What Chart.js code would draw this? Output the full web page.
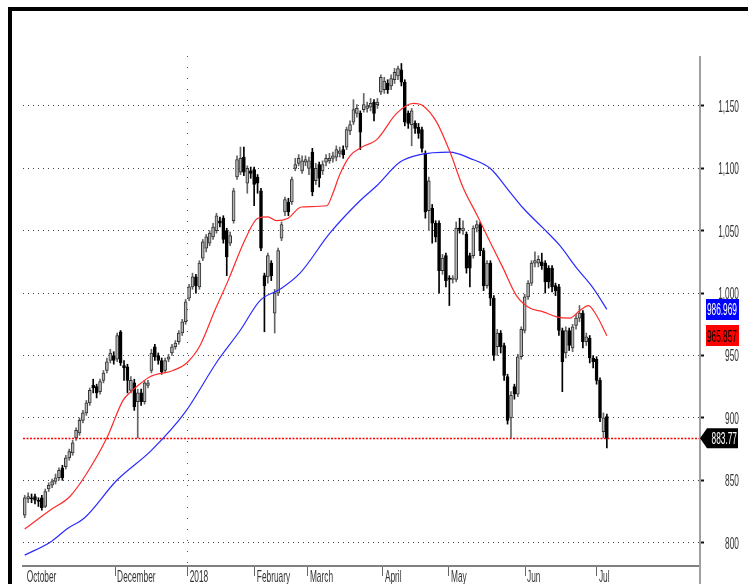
<!DOCTYPE html>
<html>
<head>
<meta charset="utf-8">
<script src="https://cdn.jsdelivr.net/npm/chart.js@4.4.1/dist/chart.umd.min.js"></script>
<style>
  html, body { margin: 0; padding: 0; background: #fff; }
  canvas { display: block; }
</style>
</head>
<body>
<canvas id="chart" width="748" height="584"></canvas>
<script>
// Daily prices, one entry per trading day (mid Oct 2017 - early Jul 2018)
const opens = [
  822,835,836,837,834,836,829,843,846,849,
  852,860,861,868,872,884,888,898,904,912,
  926,925,921,930,938,946,950,947,969,942,
  941,922,928,913,920,913,926,938,957,950,
  946,938,947,952,957,961,968,977,996,1005,
  1013,1005,1028,1036,1040,1045,1050,1058,1060,1050,
  1040,1058,1093,1097,1109,1088,1098,1099,1093,1082,
  1014,1013,1024,984,1000,1044,1065,1073,1073,1100,
  1104,1098,1105,1100,1113,1090,1103,1098,1105,1106,
  1108,1109,1112,1115,1117,1130,1137,1144,1144,1147,
  1148,1149,1153,1151,1161,1163,1168,1166,1171,1174,
  1179,1169,1144,1135,1136,1133,1131,1112,1066,1068,
  1056,1056,1018,1030,1012,1011,1011,1052,1050,1047,
  1030,1030,1052,1055,1034,1006,1024,996,957,968,
  958,933,900,925,919,949,970,997,1008,1024,
  1024,1025,1024,1020,1020,1006,1005,970,952,970,
  956,974,980,984,961,964,948,947,930,889,
  901
];
const highs = [
  838,840,839,839,836,838,843,848,851,855,
  860,862,870,875,882,892,900,906,914,924,
  931,927,931,938,948,955,953,968,970,946,
  943,933,931,923,923,930,930,955,959,952,
  948,948,951,959,962,970,979,995,1007,1016,
  1015,1026,1043,1047,1050,1056,1064,1061,1062,1052,
  1049,1084,1110,1117,1117,1102,1101,1101,1095,1084,
  1016,1032,1026,1003,1036,1057,1077,1076,1093,1108,
  1111,1110,1110,1109,1116,1104,1105,1106,1111,1112,
  1113,1118,1117,1118,1133,1138,1155,1151,1146,1160,
  1153,1156,1155,1156,1175,1173,1171,1175,1180,1182,
  1184,1171,1146,1148,1138,1136,1133,1114,1093,1071,
  1058,1058,1031,1032,1014,1014,1057,1060,1058,1049,
  1032,1054,1058,1057,1036,1026,1026,998,971,970,
  960,935,921,927,951,973,999,1010,1026,1033,
  1030,1032,1026,1022,1022,1008,1007,972,973,972,
  975,983,990,986,968,966,950,949,932,904,
  903
];
const lows = [
  820,832,832,831,829,826,828,841,844,847,
  850,850,859,866,870,882,886,896,902,910,
  920,916,919,928,936,944,943,945,942,930,
  920,920,906,884,910,911,924,936,946,943,
  935,936,945,950,955,959,966,975,994,1003,
  1000,1003,1026,1033,1038,1043,1048,1053,1040,1014,
  1038,1056,1091,1095,1094,1080,1092,1070,1080,1034,
  969,1008,1010,968,998,1042,1062,1062,1071,1098,
  1102,1096,1102,1095,1078,1087,1085,1095,1102,1104,
  1105,1106,1109,1108,1115,1127,1135,1141,1115,1145,
  1145,1146,1138,1148,1159,1160,1160,1163,1168,1171,
  1166,1134,1132,1118,1128,1124,1113,1060,1050,1040,
  1041,1000,1015,1005,990,1008,1009,1048,1047,1016,
  1005,1028,1049,1030,1002,1004,990,946,950,952,
  930,895,884,915,917,947,968,995,1006,1021,
  1021,1019,1000,1004,1001,998,966,921,948,954,
  953,971,977,956,958,944,940,927,897,884,
  876
];
const closes = [
  836,837,835,834,833,828,841,846,849,852,
  858,852,868,873,880,890,898,904,912,922,
  924,920,929,936,945,952,946,966,944,940,
  930,930,909,920,913,928,928,952,949,946,
  937,946,949,957,960,968,977,993,1005,1013,
  1006,1024,1041,1045,1048,1053,1062,1056,1043,1029,
  1046,1082,1107,1108,1097,1100,1096,1087,1088,1036,
  1006,1030,1014,1000,1034,1055,1075,1065,1091,1103,
  1108,1106,1107,1106,1081,1100,1092,1103,1108,1108,
  1110,1115,1114,1111,1131,1135,1147,1148,1129,1151,
  1150,1152,1144,1153,1173,1170,1163,1172,1177,1180,
  1169,1137,1136,1146,1132,1128,1116,1065,1090,1056,
  1045,1018,1028,1010,1011,1012,1052,1051,1052,1020,
  1020,1052,1055,1034,1006,1024,996,950,968,957,
  934,898,918,919,949,971,997,1008,1024,1026,
  1027,1022,1009,1009,1005,1002,970,945,970,958,
  973,980,984,961,965,948,945,930,900,900,
  883.77
];

// Moving averages (x = trading day index)
const redX  = [0, 7.4, 13.2, 18, 24, 28.7, 31, 34, 36.6, 43.3, 47.3, 51.2, 55.5, 59.4, 64.2, 68.1, 71, 73.5, 76.9, 80.8, 88.2, 90, 92, 95, 98.5, 102.8, 108.6, 113.5, 116.4, 120.3, 124.2, 128.1, 132, 135.9, 139.7, 143.6, 147.5, 151.4, 155.3, 159.2, 162.1, 164.6, 167, 170];
const redY  = [811, 826, 837, 855, 884, 914, 921, 928, 933, 938, 944, 958, 986, 1010, 1042, 1060, 1061, 1058, 1060, 1069, 1070, 1080, 1095, 1110, 1117, 1123, 1144, 1152, 1150, 1137, 1113, 1084, 1063, 1041, 1020, 998, 988, 985, 981, 980, 986, 990, 982, 965.857];
const blueX = [0, 7.8, 12.3, 17.5, 26.9, 37, 46.7, 56.4, 62.9, 68.7, 74.5, 80.4, 89.1, 97.9, 102.8, 109.6, 115.4, 124.2, 130, 135.9, 141.7, 145.6, 151.4, 156.3, 161.2, 166, 170];
const blueY = [790, 801, 811, 820, 850, 874, 904, 946, 970, 994, 1003, 1016, 1048, 1074, 1086, 1105, 1111, 1113, 1108, 1100, 1081, 1068, 1052, 1038, 1020, 1004, 986.969];

// Axis ticks
const monthTicks  = [0, 26.4, 47.6, 67.2, 82.7, 104.6, 123.9, 146.1, 167.1];
const monthLabels = ['October', 'December', '2018', 'February', 'March', 'April', 'May', 'Jun', 'Jul'];
const priceTicks  = [800, 850, 900, 950, 1000, 1050, 1100, 1150];

const days = closes.map((c, i) => i);
const isUp = days.map(i => closes[i] >= opens[i]);

// Tall, narrow label text like the original
const labelFont = '17px "Liberation Sans", Arial, sans-serif';
function squeezedText(ctx, text, x, y, align, color) {
    ctx.save();
    ctx.translate(x, y);
    ctx.scale(0.49, 1);
    ctx.font = labelFont;
    ctx.textAlign = align;
    ctx.textBaseline = 'alphabetic';
    ctx.fillStyle = color;
    ctx.fillText(text, 0, 0);
    ctx.restore();
}

// Value tag on the right axis
function valueBox(ctx, y, text, fill, textColor, arrow) {
    ctx.save();
    ctx.fillStyle = fill;
    ctx.beginPath();
    if (arrow) {
        ctx.moveTo(700, y);
        ctx.lineTo(707, y - 10);
        ctx.lineTo(738, y - 10);
        ctx.lineTo(738, y + 10);
        ctx.lineTo(707, y + 10);
        ctx.closePath();
    } else {
        ctx.rect(706, Math.round(y - 10.5), 33, 21);
    }
    ctx.fill();
    ctx.restore();
    squeezedText(ctx, text, 737, y + 6, 'right', textColor);
}

const decor = {
    id: 'decor',
    beforeDraw(chart) {
        const ctx = chart.ctx;
        ctx.save();
        ctx.fillStyle = '#fff';
        ctx.fillRect(0, 0, chart.width, chart.height);
        // outer frame
        ctx.fillStyle = '#000';
        ctx.fillRect(8, 7, 740, 4);
        ctx.fillRect(8, 7, 4, 577);
        ctx.restore();
    },
    afterDatasetsDraw(chart) {
        const ctx = chart.ctx;
        const area = chart.chartArea;
        const y = Math.round(chart.scales.y.getPixelForValue(closes[closes.length - 1])) + 0.5;
        ctx.save();
        ctx.strokeStyle = '#ff0000';
        ctx.lineWidth = 1.5;
        ctx.setLineDash([2, 1.5]);
        ctx.beginPath();
        ctx.moveTo(area.left, y);
        ctx.lineTo(area.right, y);
        ctx.stroke();
        ctx.restore();
    },
    afterDraw(chart) {
        const ctx = chart.ctx;
        const xs = chart.scales.x;
        const ys = chart.scales.y;
        const area = chart.chartArea;

        // right axis line, running down past the date axis
        ctx.save();
        ctx.fillStyle = '#a0a0a0';
        ctx.fillRect(area.right - 1, area.top, 2, chart.height - area.top);
        ctx.restore();

        priceTicks.forEach(v => {
            squeezedText(ctx, v.toLocaleString('en-US'), 739, ys.getPixelForValue(v) + 6, 'right', '#333');
        });
        monthTicks.forEach((v, i) => {
            squeezedText(ctx, monthLabels[i], xs.getPixelForValue(v) + 2, 582, 'left', '#333');
        });

        const lastRed = redY[redY.length - 1];
        const lastBlue = blueY[blueY.length - 1];
        const lastClose = closes[closes.length - 1];
        valueBox(ctx, ys.getPixelForValue(lastBlue), lastBlue.toFixed(3), '#0000ff', '#fff', false);
        valueBox(ctx, ys.getPixelForValue(lastRed), lastRed.toFixed(3), '#ff0000', '#000', false);
        valueBox(ctx, ys.getPixelForValue(lastClose), lastClose.toFixed(2), '#000', '#fff', true);
    }
};

const ctx = document.getElementById('chart').getContext('2d');
new Chart(ctx, {
    type: 'bar',
    data: {
        datasets: [
            {
                type: 'line',
                label: 'Short MA',
                data: redX.map((x, i) => ({ x, y: redY[i] })),
                borderColor: '#ff2a2a',
                borderWidth: 1.2,
                pointRadius: 0,
                cubicInterpolationMode: 'monotone',
                order: 0
            },
            {
                type: 'line',
                label: 'Long MA',
                data: blueX.map((x, i) => ({ x, y: blueY[i] })),
                borderColor: '#2a2aff',
                borderWidth: 1.2,
                pointRadius: 0,
                cubicInterpolationMode: 'monotone',
                order: 0
            },
            {
                label: 'Body',
                data: days.map(i => ({ x: i, y: [opens[i], closes[i]] })),
                backgroundColor: days.map(i => isUp[i] ? '#b4b4b4' : '#000'),
                borderColor: days.map(i => isUp[i] ? '#333' : '#000'),
                borderWidth: 1,
                borderSkipped: false,
                barThickness: 3,
                grouped: false,
                order: 1
            },
            {
                label: 'Wick',
                data: days.map(i => ({ x: i, y: [lows[i], highs[i]] })),
                backgroundColor: days.map(i => isUp[i] ? '#666' : '#000'),
                barThickness: 1,
                grouped: false,
                order: 2
            }
        ]
    },
    options: {
        responsive: false,
        animation: false,
        devicePixelRatio: 1,
        layout: { padding: { left: 23, top: 56, right: 0, bottom: 0 } },
        plugins: {
            legend: { display: false },
            tooltip: { enabled: false }
        },
        scales: {
            x: {
                type: 'linear',
                min: -0.5,
                max: 197.2,
                offset: false,
                afterBuildTicks: s => { s.ticks = monthTicks.map(v => ({ value: v })); },
                afterFit: s => { s.height = 18; },
                ticks: { display: false },
                grid: {
                    offset: false,
                    color: c => (monthLabels[c.index] === '2018') ? '#555' : 'rgba(0,0,0,0)',
                    drawTicks: true,
                    tickLength: 10,
                    tickWidth: 1,
                    tickColor: c => c.index === 0 ? 'rgba(0,0,0,0)' : '#666'
                },
                border: { display: true, color: '#808080', width: 2, dash: [1, 10] }
            },
            y: {
                position: 'right',
                min: 781.3,
                max: 1190,
                afterBuildTicks: s => { s.ticks = priceTicks.map(v => ({ value: v })); },
                afterFit: s => { s.width = 48; },
                ticks: { display: false },
                grid: {
                    color: '#444',
                    lineWidth: 1,
                    drawTicks: true,
                    tickLength: 4,
                    tickWidth: 2,
                    tickColor: '#111'
                },
                border: { display: false, dash: [1, 4] }
            }
        }
    },
    plugins: [decor]
});
</script>
</body>
</html>
